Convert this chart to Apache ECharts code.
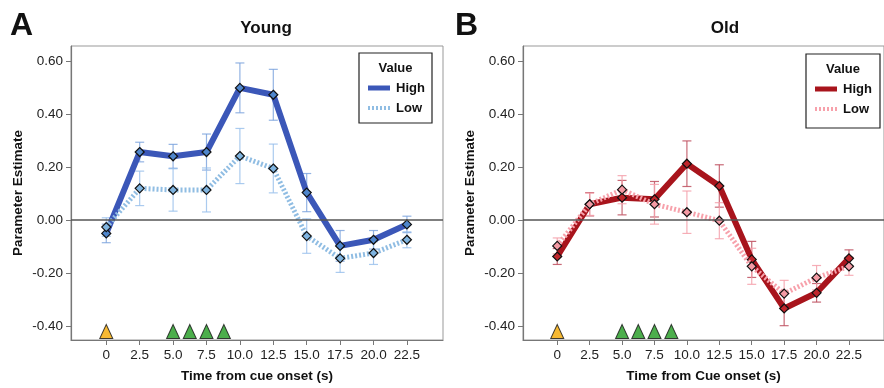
<!DOCTYPE html>
<html>
<head>
<meta charset="utf-8">
<script src="https://cdn.jsdelivr.net/npm/echarts@6/dist/echarts.min.js"></script>
<style>
  html, body { margin: 0; padding: 0; background: #fff; }
  #chart { width: 884px; height: 388px; }
</style>
</head>
<body>
<div id="chart"></div>
<script>
// time bins (s) after cue onset
const timeBins = [0, 2.5, 5, 7.5, 10, 12.5, 15, 17.5, 20, 22.5];
const xTicks = [0, 2.5, 5, 7.5, 10, 12.5, 15, 17.5, 20, 22.5];
const yTicks = [-0.4, -0.2, 0, 0.2, 0.4, 0.6];

// Young
const youngHigh = [-0.05, 0.257, 0.241, 0.257, 0.499, 0.473, 0.104, -0.097, -0.074, -0.016];
const youngHighErr = [0.035, 0.037, 0.045, 0.068, 0.094, 0.096, 0.072, 0.058, 0.035, 0.031];
const youngLow = [-0.026, 0.12, 0.114, 0.114, 0.242, 0.195, -0.06, -0.144, -0.124, -0.074];
const youngLowErr = [0.035, 0.065, 0.08, 0.083, 0.104, 0.092, 0.065, 0.053, 0.043, 0.03];

// Old
const oldHigh = [-0.137, 0.06, 0.085, 0.079, 0.213, 0.129, -0.148, -0.333, -0.274, -0.144];
const oldHighErr = [0.03, 0.044, 0.065, 0.067, 0.086, 0.08, 0.068, 0.065, 0.035, 0.032];
const oldLow = [-0.097, 0.06, 0.115, 0.06, 0.03, -0.002, -0.174, -0.277, -0.217, -0.174];
const oldLowErr = [0.03, 0.042, 0.053, 0.075, 0.08, 0.068, 0.068, 0.05, 0.046, 0.034];

// event markers along the bottom
const cueTimes = [0];
const outcomeTimes = [5, 6.25, 7.5, 8.8];
const markerLevel = -0.42;

const FONT = 'Liberation Sans, Arial, sans-serif';

const pairs = (vals) => timeBins.map((t, i) => [t, vals[i]]);
const errData = (vals, err) => timeBins.map((t, i) => [t, vals[i] - err[i], vals[i] + err[i]]);

function errorBars(data, color, gi) {
  return {
    type: 'custom',
    xAxisIndex: gi,
    yAxisIndex: gi,
    silent: true,
    z: 1,
    encode: { x: 0, y: [1, 2] },
    data: data,
    renderItem: (params, api) => {
      const lo = api.coord([api.value(0), api.value(1)]);
      const hi = api.coord([api.value(0), api.value(2)]);
      const w = 4.5;
      const st = { stroke: color, lineWidth: 1.2 };
      return {
        type: 'group',
        children: [
          { type: 'line', shape: { x1: lo[0], y1: lo[1], x2: hi[0], y2: hi[1] }, style: st },
          { type: 'line', shape: { x1: lo[0] - w, y1: lo[1], x2: lo[0] + w, y2: lo[1] }, style: st },
          { type: 'line', shape: { x1: hi[0] - w, y1: hi[1], x2: hi[0] + w, y2: hi[1] }, style: st },
        ],
      };
    },
  };
}

function lineSeries(name, vals, lineColor, fill, dotted, gi, z) {
  return {
    type: 'line',
    name: name,
    xAxisIndex: gi,
    yAxisIndex: gi,
    data: pairs(vals),
    z: z,
    symbol: 'diamond',
    symbolSize: 9,
    showAllSymbol: true,
    itemStyle: { color: fill, borderColor: '#111', borderWidth: 1.2 },
    lineStyle: dotted
      ? { color: lineColor, width: 5, type: [2, 2], cap: 'butt' }
      : { color: lineColor, width: 6 },
    emphasis: { disabled: true },
  };
}

function eventMarkers(times, color, gi) {
  return {
    type: 'scatter',
    xAxisIndex: gi,
    yAxisIndex: gi,
    symbol: 'triangle',
    symbolSize: [13, 14],
    z: 5,
    itemStyle: { color: color, borderColor: '#111', borderWidth: 1 },
    data: times.map((t) => [t, markerLevel]),
  };
}

function zeroLine(gi) {
  return {
    type: 'line',
    xAxisIndex: gi,
    yAxisIndex: gi,
    data: [],
    markLine: {
      silent: true,
      symbol: 'none',
      label: { show: false },
      lineStyle: { color: '#555', width: 1.5, type: 'solid' },
      data: [{ yAxis: 0 }],
    },
  };
}

function xAxisDef(gi, title) {
  return {
    type: 'value',
    gridIndex: gi,
    min: -2.64,
    max: 25.2,
    name: title,
    nameLocation: 'middle',
    nameGap: 29,
    nameTextStyle: { fontFamily: FONT, fontSize: 13.5, fontWeight: 'bold', color: '#111' },
    axisLine: { onZero: false, lineStyle: { color: '#777', width: 1.2 } },
    axisTick: { customValues: xTicks, length: 5, lineStyle: { color: '#777' } },
    axisLabel: {
      customValues: xTicks,
      margin: 8,
      fontFamily: FONT,
      fontSize: 13.5,
      color: '#222',
      formatter: (v) => (v === 0 ? '0' : v.toFixed(1)),
    },
    splitLine: { show: false },
  };
}

function yAxisDef(gi) {
  return {
    type: 'value',
    gridIndex: gi,
    min: -0.452,
    max: 0.657,
    name: 'Parameter Estimate',
    nameLocation: 'middle',
    nameRotate: 90,
    nameGap: 46,
    nameTextStyle: { fontFamily: FONT, fontSize: 13.5, fontWeight: 'bold', color: '#111' },
    axisLine: { show: true, onZero: false, lineStyle: { color: '#777', width: 1.2 } },
    axisTick: { show: true, customValues: yTicks, length: 5, lineStyle: { color: '#777' } },
    axisLabel: {
      customValues: yTicks,
      margin: 8,
      fontFamily: FONT,
      fontSize: 13.5,
      color: '#222',
      formatter: (v) => v.toFixed(2),
    },
    splitLine: { show: false },
  };
}

function legendBox(x, y, w, h, highColor, lowColor) {
  const tx = x + 37;
  return [
    { type: 'rect', shape: { x: x, y: y, width: w, height: h }, style: { fill: '#fff', stroke: '#222', lineWidth: 1.2 }, z: 10 },
    { type: 'text', x: x + w / 2, y: y + 15, style: { text: 'Value', fontFamily: FONT, fontSize: 13, fontWeight: 'bold', fill: '#111', align: 'center', verticalAlign: 'middle' }, z: 11 },
    { type: 'line', shape: { x1: x + 9, y1: y + 35, x2: x + 31, y2: y + 35 }, style: { stroke: highColor, lineWidth: 5 }, z: 11 },
    { type: 'text', x: tx, y: y + 35, style: { text: 'High', fontFamily: FONT, fontSize: 13, fontWeight: 'bold', fill: '#111', verticalAlign: 'middle' }, z: 11 },
    { type: 'line', shape: { x1: x + 9, y1: y + 55, x2: x + 31, y2: y + 55 }, style: { stroke: lowColor, lineWidth: 4, lineDash: [2, 2] }, z: 11 },
    { type: 'text', x: tx, y: y + 55, style: { text: 'Low', fontFamily: FONT, fontSize: 13, fontWeight: 'bold', fill: '#111', verticalAlign: 'middle' }, z: 11 },
  ];
}

const youngHighColor = '#3b57b8';
const youngLowColor = '#90bde3';
const oldHighColor = '#a8141c';
const oldLowColor = '#f7a1ab';

const option = {
  backgroundColor: '#fff',
  animation: false,
  grid: [
    { left: 71, top: 46, width: 372, height: 298, show: true, borderColor: '#999', borderWidth: 1 },
    { left: 523, top: 46, width: 372, height: 298, show: true, borderColor: '#999', borderWidth: 1 },
  ],
  xAxis: [xAxisDef(0, 'Time from cue onset (s)'), xAxisDef(1, 'Time from Cue onset (s)')],
  yAxis: [yAxisDef(0), yAxisDef(1)],
  graphic: [
    { type: 'text', x: 10, y: 10, style: { text: 'A', fontFamily: FONT, fontSize: 32, fontWeight: 'bold', fill: '#111' } },
    { type: 'text', x: 455, y: 10, style: { text: 'B', fontFamily: FONT, fontSize: 32, fontWeight: 'bold', fill: '#111' } },
    { type: 'text', x: 266, y: 28, style: { text: 'Young', fontFamily: FONT, fontSize: 17, fontWeight: 'bold', fill: '#111', align: 'center', verticalAlign: 'middle' } },
    { type: 'text', x: 725, y: 28, style: { text: 'Old', fontFamily: FONT, fontSize: 17, fontWeight: 'bold', fill: '#111', align: 'center', verticalAlign: 'middle' } },
    ...legendBox(359, 53, 73, 70, youngHighColor, youngLowColor),
    ...legendBox(806, 54, 74, 74, oldHighColor, oldLowColor),
  ],
  series: [
    zeroLine(0),
    errorBars(errData(youngHigh, youngHighErr), 'rgba(120,160,220,0.8)', 0),
    errorBars(errData(youngLow, youngLowErr), 'rgba(150,190,235,0.8)', 0),
    lineSeries('High', youngHigh, youngHighColor, '#4f86cc', false, 0, 3),
    lineSeries('Low', youngLow, youngLowColor, '#7fb4e0', true, 0, 4),
    eventMarkers(cueTimes, '#f5a800', 0),
    eventMarkers(outcomeTimes, '#1f9a1f', 0),

    zeroLine(1),
    errorBars(errData(oldHigh, oldHighErr), 'rgba(190,80,95,0.85)', 1),
    errorBars(errData(oldLow, oldLowErr), 'rgba(245,160,170,0.85)', 1),
    lineSeries('High', oldHigh, oldHighColor, '#c0262c', false, 1, 3),
    lineSeries('Low', oldLow, oldLowColor, '#f49aa4', true, 1, 4),
    eventMarkers(cueTimes, '#f5a800', 1),
    eventMarkers(outcomeTimes, '#1f9a1f', 1),
  ],
};

const myChart = echarts.init(document.getElementById('chart'));
myChart.setOption(option);
</script>
</body>
</html>
